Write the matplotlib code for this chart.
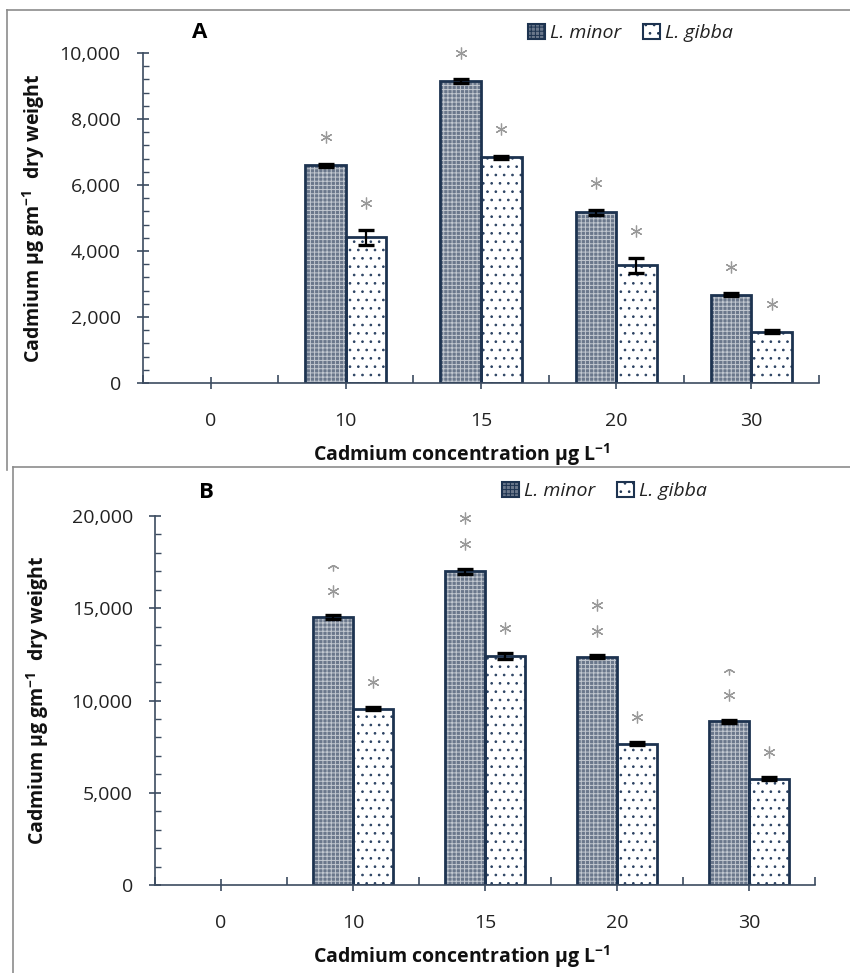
import numpy as np
import matplotlib.pyplot as plt
from matplotlib.lines import Line2D
from matplotlib.patches import Rectangle
from matplotlib.ticker import FuncFormatter, MultipleLocator

plt.rcParams['font.family'] = ['Open Sans', 'DejaVu Sans']
plt.rcParams['hatch.linewidth'] = 0.7

# data
concs = ['0', '10', '15', '20', '30']
series = ['L. minor', 'L. gibba']

minor_a = [0, 6600, 9150, 5170, 2680]
minor_a_err = [0, 50, 50, 80, 40]
gibba_a = [0, 4420, 6840, 3570, 1560]
gibba_a_err = [0, 230, 50, 230, 40]
minor_a_stars = [0, 1, 1, 1, 1]
gibba_a_stars = [0, 1, 1, 1, 1]

minor_b = [0, 14520, 17000, 12380, 8870]
minor_b_err = [0, 90, 120, 60, 100]
gibba_b = [0, 9560, 12430, 7660, 5760]
gibba_b_err = [0, 90, 170, 90, 90]
minor_b_stars = [0, 2, 2, 2, 2]
gibba_b_stars = [0, 1, 1, 1, 1]

navy = '#1d3350'
minor_fill = '#6a778b'
minor_hatch = '#c2c8d0'
axis_col = '#3c4c60'
W, H = 850.0, 973.0


def draw_bars(ax, xs, vals, errs, kind):
    xs = np.asarray(xs, float)
    vals = np.asarray(vals, float)
    errs = np.asarray(errs, float)
    m = vals > 0
    if kind == 'minor':
        ax.bar(xs[m], vals[m], w, color=minor_fill, edgecolor='none', zorder=2)
        ax.bar(xs[m], vals[m], w, color='none', edgecolor=minor_hatch, hatch='++++',
               linewidth=0, zorder=2.1)
    else:
        ax.bar(xs[m], vals[m], w, color='white', edgecolor='none', zorder=2)
        ax.bar(xs[m], vals[m], w, color='none', edgecolor='#2b4262', hatch='..',
               linewidth=0, zorder=2.1)
    ax.bar(xs[m], vals[m], w, color='none', edgecolor=navy, linewidth=2.0, zorder=2.2)
    ax.errorbar(xs[m], vals[m], yerr=errs[m], fmt='none', ecolor='black',
                elinewidth=1.6, capsize=6, capthick=2.4, zorder=3)


def draw_stars(ax, xs, vals, nstars, gap, step, clip_top=None):
    for i, (x, v, n) in enumerate(zip(xs, vals, nstars)):
        for k in range(n):
            y = v + gap + k * step
            ln, = ax.plot([x], [y], linestyle='none', marker=(6, 2, 0), markersize=8.5,
                          markeredgecolor='#9a9a9a', markeredgewidth=0.9, zorder=4,
                          clip_on=False)
            if k == 1 and clip_top is not None and i in clip_top:
                # the upper star is only partly shown in the original
                ln.set_clip_on(True)
                ln.set_clip_path(Rectangle((x - 0.2, y - 3000), 0.4, 3000 - step * 0.02,
                                           transform=ax.transData))


def panel(rect, minor, minor_err, gibba, gibba_err, mstars, gstars, ymax, major,
          minor_step, letter, gap, step, letter_xy, leg_xy, ylab_x, clip_top=None):
    ax = fig.add_axes(rect)
    x = np.arange(len(concs))
    draw_bars(ax, x - w / 2, minor, minor_err, 'minor')
    draw_bars(ax, x + w / 2, gibba, gibba_err, 'gibba')
    draw_stars(ax, x - w / 2, np.array(minor) + np.array(minor_err), mstars, gap, step, clip_top)
    draw_stars(ax, x + w / 2, np.array(gibba) + np.array(gibba_err), gstars, gap, step)

    ax.set_xlim(-0.5, len(concs) - 0.5)
    ax.set_ylim(0, ymax)
    ax.set_xticks(x)
    ax.set_xticklabels(concs)
    ax.set_xticks(np.arange(len(concs) + 1) - 0.5, minor=True)
    ax.yaxis.set_major_locator(MultipleLocator(major))
    ax.yaxis.set_minor_locator(MultipleLocator(minor_step))
    ax.yaxis.set_major_formatter(FuncFormatter(lambda v, p: f'{int(v):,}'))

    for s in ['top', 'right']:
        ax.spines[s].set_visible(False)
    for s in ['left', 'bottom']:
        ax.spines[s].set_color(axis_col)
        ax.spines[s].set_linewidth(1.2)
    ax.tick_params(axis='x', which='major', direction='inout', length=8, width=1.2,
                   color=axis_col, pad=17, labelsize=14, labelcolor='#222222')
    ax.tick_params(axis='x', which='minor', direction='in', length=6, width=1.2,
                   color=axis_col)
    ax.tick_params(axis='y', which='major', direction='inout', length=8, width=1.2,
                   color=axis_col, pad=12, labelsize=14, labelcolor='#222222')
    ax.tick_params(axis='y', which='minor', direction='in', length=4, width=1.0,
                   color=axis_col)

    ax.set_xlabel('Cadmium concentration μg L$^{\\mathregular{-1}}$', fontsize=14,
                  fontweight='bold', color='#111111', va='center')
    ax.set_ylabel('Cadmium μg gm$^{\\mathregular{-1}}$  dry weight', fontsize=14,
                  fontweight='bold', color='#111111', va='center')
    # label positions, in pixels of the figure
    fx = lambda px: (px / W - rect[0]) / rect[2]
    fy = lambda py: ((1 - py / H) - rect[1]) / rect[3]
    ax.xaxis.set_label_coords(fx(462), -72 / (rect[3] * H))
    ax.yaxis.set_label_coords(fx(ylab_x), 0.5)
    ax.text(fx(letter_xy[0]), fy(letter_xy[1]), letter, transform=ax.transAxes,
            fontsize=16, fontweight='bold', ha='center', va='center')

    handles = [Rectangle((0, 0), 1, 1, facecolor=minor_fill, edgecolor=navy,
                         hatch='++++', linewidth=1.5),
               Rectangle((0, 0), 1, 1, facecolor='white', edgecolor=navy,
                         hatch='..', linewidth=1.5)]
    leg = fig.legend(handles, series, loc='center left',
                     bbox_to_anchor=(leg_xy[0] / W, 1 - leg_xy[1] / H),
                     bbox_transform=fig.transFigure, ncol=2, frameon=False,
                     handlelength=0.85, handleheight=0.85, handletextpad=0.3,
                     columnspacing=1.1, borderpad=0, borderaxespad=0,
                     prop={'style': 'italic', 'size': 14})
    for t in leg.get_texts():
        t.set_color('#222222')
    return ax


w = 0.3
fig = plt.figure(figsize=(8.5, 9.73), dpi=100)


def rect_px(left, right, top, bottom):
    return [left / W, 1 - bottom / H, (right - left) / W, (bottom - top) / H]


axA = panel(rect_px(143, 819, 53, 383), minor_a, minor_a_err, gibba_a, gibba_a_err,
            minor_a_stars, gibba_a_stars, 10000, 2000, 400, 'A', 800, 0,
            (200, 33), (528, 33), 34)
axB = panel(rect_px(155, 815, 516, 885), minor_b, minor_b_err, gibba_b, gibba_b_err,
            minor_b_stars, gibba_b_stars, 20000, 5000, 1000, 'B', 1350, 1400,
            (206, 493), (502, 491), 38, clip_top=[1, 4])

# outer frames around each panel
frame_col = '#8c8c8c'
for (x0, y0, y1) in [(7, 10, 470), (13, 467, 973)]:
    fig.add_artist(Line2D([x0 / W, x0 / W], [1 - y0 / H, 1 - y1 / H],
                          color=frame_col, linewidth=1.2, transform=fig.transFigure))
    fig.add_artist(Line2D([x0 / W, 1.0], [1 - y0 / H, 1 - y0 / H],
                          color=frame_col, linewidth=1.2, transform=fig.transFigure))

fig.savefig('out.png', dpi=100, facecolor='white')
